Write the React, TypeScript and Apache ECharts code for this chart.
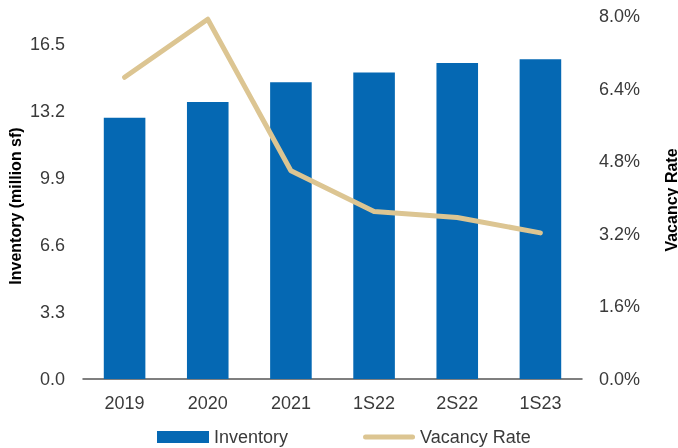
import React, { useEffect, useRef } from "react";
import * as echarts from "echarts";

const categories = ["2019", "2020", "2021", "1S22", "2S22", "1S23"];
const inventory = [12.86, 13.64, 14.61, 15.09, 15.56, 15.75];
const vacancyRate = [6.65, 7.93, 4.59, 3.69, 3.56, 3.22];
const leftTitle = "Inventory (million sf)";
const rightTitle = "Vacancy Rate";

const FONT = "'Liberation Sans', Arial, Helvetica, sans-serif";
const LABEL_COLOR = "#3a3a3a";
const LINE_ICON =
  "path://M0,0 L0.01,0 Z M2.5,3.5 L49.5,3.5 A2.5,2.5 0 0 1 49.5,8.5 L2.5,8.5 A2.5,2.5 0 0 1 2.5,3.5 Z M52,12 L51.99,12 Z";

export default function App() {
  const ref = useRef<HTMLDivElement>(null);
  useEffect(() => {
    if (!ref.current) return;
    const chart = echarts.init(ref.current, undefined, { renderer: "svg" });
    chart.setOption({
      animation: false,
      textStyle: { fontFamily: FONT },
      grid: { left: 83, right: 96, top: 16, bottom: 69 },
      legend: {
        top: 423,
        left: 152,
        itemWidth: 52,
        itemHeight: 12,
        itemGap: 75,
        textStyle: { fontSize: 18, color: LABEL_COLOR, fontFamily: FONT },
        data: [
          { name: "Inventory", icon: "rect" },
          { name: "Vacancy Rate", icon: LINE_ICON, itemStyle: { color: "#dcc592" } },
        ],
      },
      graphic: [
        {
          type: "text",
          x: 15,
          y: 206,
          rotation: Math.PI / 2,
          style: {
            text: leftTitle,
            font: `bold 16px ${FONT}`,
            fill: "#000",
            textAlign: "center",
            textVerticalAlign: "middle",
          },
        },
        {
          type: "text",
          x: 671,
          y: 200,
          rotation: Math.PI / 2,
          style: {
            text: rightTitle,
            font: `bold 16px ${FONT}`,
            fill: "#000",
            textAlign: "center",
            textVerticalAlign: "middle",
          },
        },
      ],
      xAxis: {
        type: "category",
        data: categories,
        axisLine: { lineStyle: { color: "#555", width: 1.5 } },
        axisTick: { show: false },
        axisLabel: { fontSize: 18, color: LABEL_COLOR, margin: 15, fontFamily: FONT },
      },
      yAxis: [
        {
          type: "value",
          min: 0,
          max: 17.875,
          interval: 3.3,
          splitLine: { show: false },
          axisLine: { show: false },
          axisTick: { show: false },
          axisLabel: {
            fontSize: 18,
            color: LABEL_COLOR,
            margin: 18,
            showMaxLabel: false,
            fontFamily: FONT,
            formatter: (v: number) => v.toFixed(1),
          },
        },
        {
          type: "value",
          min: 0,
          max: 8,
          interval: 1.6,
          position: "right",
          splitLine: { show: false },
          axisLine: { show: false },
          axisTick: { show: false },
          axisLabel: {
            fontSize: 18,
            color: LABEL_COLOR,
            margin: 17,
            fontFamily: FONT,
            formatter: (v: number) => v.toFixed(1) + "%",
          },
        },
      ],
      series: [
        {
          name: "Inventory",
          type: "bar",
          data: inventory,
          barWidth: "50%",
          itemStyle: { color: "#0568b3" },
        },
        {
          name: "Vacancy Rate",
          type: "line",
          yAxisIndex: 1,
          data: vacancyRate,
          symbol: "none",
          lineStyle: { color: "#dcc592", width: 5, cap: "round", join: "round" },
          itemStyle: { color: "#dcc592" },
        },
      ],
    });
    return () => chart.dispose();
  }, []);
  return (
    <div
      ref={ref}
      style={{ position: "fixed", left: 0, top: 0, width: 678, height: 448 }}
    />
  );
}
